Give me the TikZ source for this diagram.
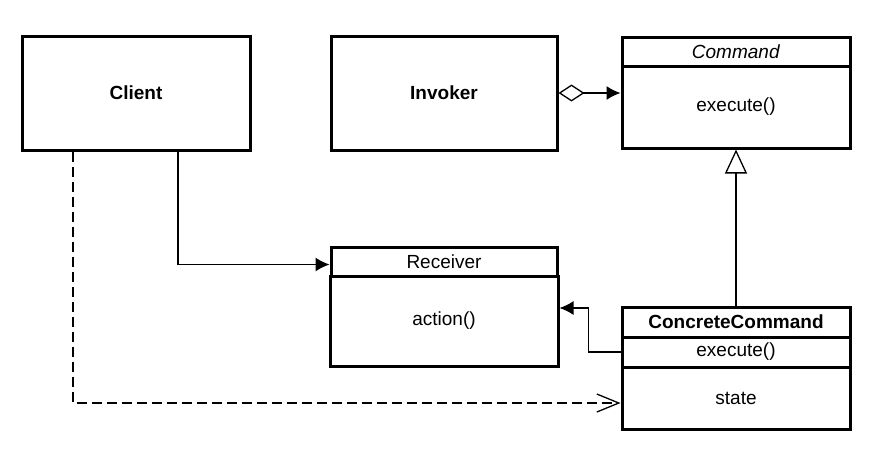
\documentclass[tikz,border=0pt]{standalone}
\usepackage{fontspec}
\setmainfont{Liberation Sans}
\usetikzlibrary{positioning,arrows.meta}
\begin{document}
\begin{tikzpicture}[x=1pt,y=-1pt,
  box/.style={draw,line width=3pt,minimum width=228pt,inner sep=0pt},
  part/.style={box,below=-3pt of #1},
  conn/.style={line width=1.3pt}]
\fontsize{19}{23}\selectfont
\useasboundingbox (0,0) rectangle (896,456);
% classes
\node[box,minimum height=114pt] (client) at (136,93) {\textbf{Client}};
\node[box,minimum height=114pt,minimum width=226pt] (invoker) at (444,93) {\textbf{Invoker}};
\node[box,minimum height=29pt] (cmdhead) at (736,51.5) {\textit{Command}};
\node[box,minimum height=82pt,part=cmdhead] (cmdbody) {execute()};
\node[box,minimum height=29pt,minimum width=226pt] (rechead) at (444,261.5) {Receiver};
\node[box,minimum height=90pt,minimum width=226pt,part=rechead] (recbody) {action()};
\node[box,minimum height=30pt] (cchead) at (736,322) {\textbf{ConcreteCommand}};
\node[box,minimum height=30pt,part=cchead] (ccop) {execute()};
\node[box,minimum height=62pt,part=ccop] (ccattr) {state};
% relations
\draw[conn,{Diamond[open,length=26pt,width=17pt]}-{Latex[length=14pt,width=14pt]}]
  (invoker.east) -- (invoker.east -| cmdbody.west);
\draw[conn,-{Triangle[open,length=24pt,width=22pt]}] (cchead.north) -- (cmdbody.south);
\draw[conn,-{Latex[length=14pt,width=14pt]}]
  (ccop.west) -- ++(-32,0) |- ([yshift=13pt]recbody.east);
\draw[conn,-{Latex[length=14pt,width=14pt]}]
  ([xshift=42pt]client.south) |- ([yshift=-3pt]rechead.west);
\draw[conn,dash pattern=on 10pt off 5pt,-{Straight Barb[length=22pt,width=18pt]}]
  ([xshift=-63pt]client.south) |- ([yshift=-5pt]ccattr.west);
\end{tikzpicture}
\end{document}
